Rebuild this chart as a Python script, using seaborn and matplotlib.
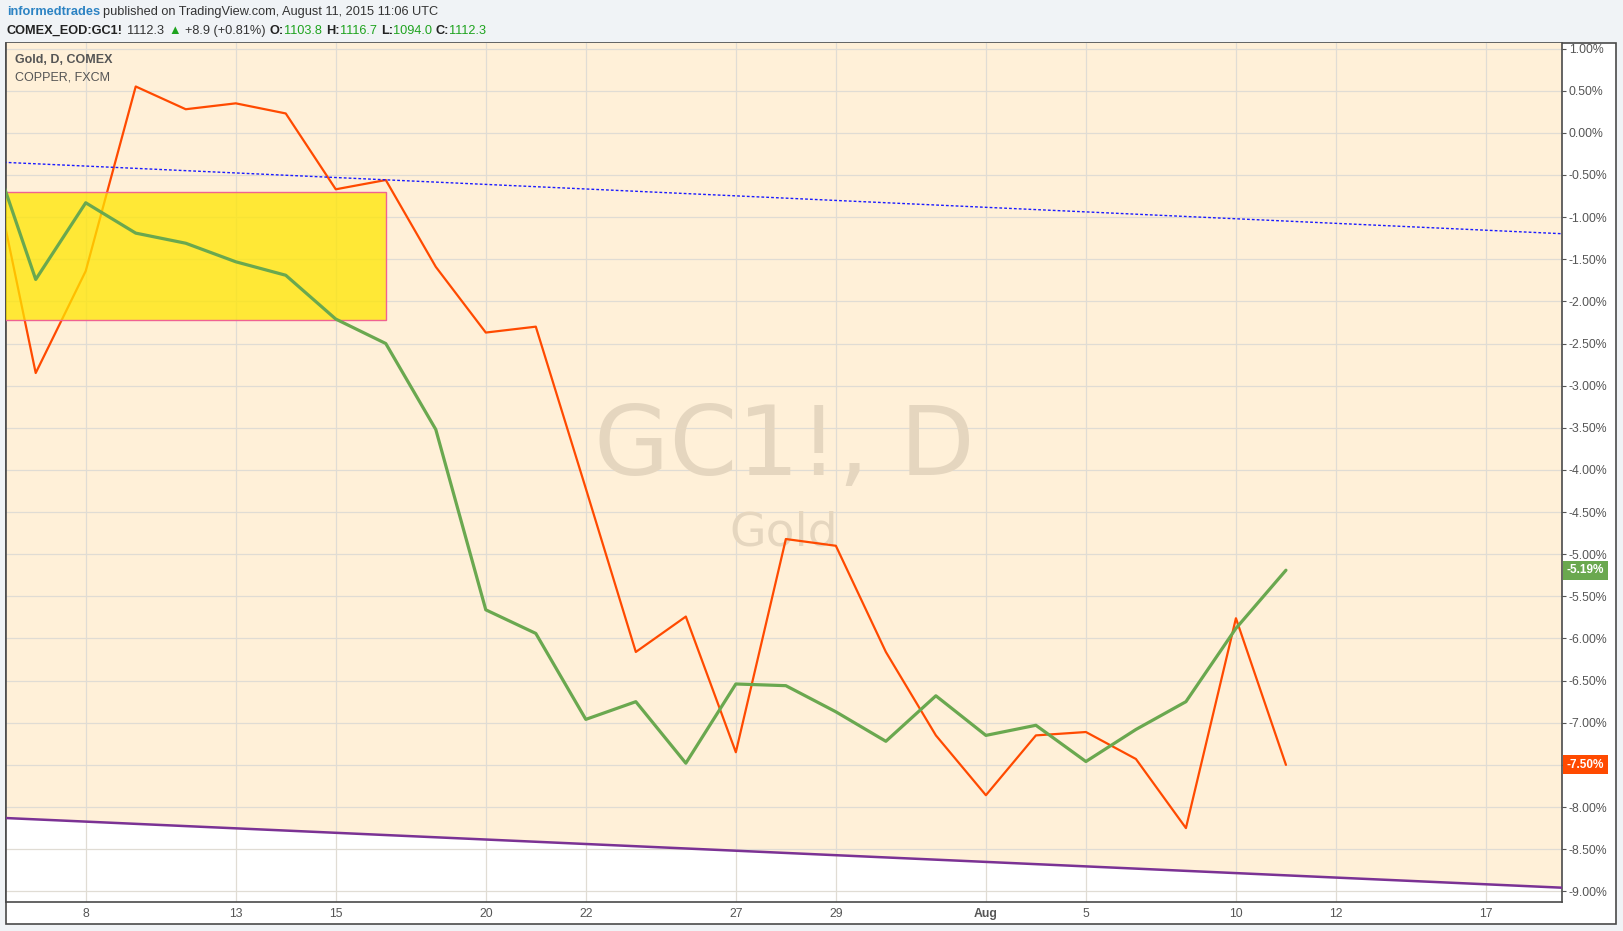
import numpy as np
import pandas as pd
import seaborn as sns
import matplotlib

matplotlib.use("Agg")
import matplotlib.pyplot as plt
import matplotlib.transforms as mtransforms
from matplotlib.patches import Rectangle
from matplotlib.offsetbox import TextArea, HPacker, VPacker, AnchoredOffsetbox

# trading days (Jul 6 .. Aug 17, 2015), x = index of the trading day
days = ["Jul 6", "Jul 7", "Jul 8", "Jul 9", "Jul 10", "Jul 13", "Jul 14", "Jul 15",
        "Jul 16", "Jul 17", "Jul 20", "Jul 21", "Jul 22", "Jul 23", "Jul 24",
        "Jul 27", "Jul 28", "Jul 29", "Jul 30", "Jul 31", "Aug 3", "Aug 4",
        "Aug 5", "Aug 6", "Aug 7", "Aug 10", "Aug 11"]

# percent change vs Jul 6 close
gold = [0.0, -1.74, -0.83, -1.19, -1.31, -1.53, -1.69, -2.21, -2.50, -3.52,
        -5.66, -5.94, -6.96, -6.75, -7.48, -6.54, -6.56, -6.87, -7.22, -6.68,
        -7.15, -7.03, -7.46, -7.08, -6.75, -5.88, -5.19]
copper = [0.0, -2.85, -1.64, 0.55, 0.28, 0.35, 0.23, -0.67, -0.56, -1.59,
          -2.37, -2.30, -4.22, -6.16, -5.74, -7.35, -4.82, -4.90, -6.16, -7.15,
          -7.86, -7.15, -7.11, -7.43, -8.25, -5.76, -7.50]

# drawn trend lines (x in trading-day index)
trend_x = [0, 32]
trend_upper = [-0.34, -1.21]
trend_lower = [-8.12, -8.97]

# highlighted box (x from, x to, y top, y bottom)
box_x = [0, 8]
box_y = [-0.70, -2.22]

tick_pos = [2, 5, 7, 10, 12, 15, 17, 20, 22, 25, 27, 30]
tick_labels = ["8", "13", "15", "20", "22", "27", "29", "Aug", "5", "10", "12", "17"]
y_ticks = np.arange(-9.0, 1.01, 0.5)

GREEN = "#6aa84f"
RED = "#ff4a00"
PEACH = "#ffebcc"
GRID = "#e0dcd4"
TXT = "#555555"

sns.set_style("white")
plt.rcParams["font.family"] = ["Liberation Sans", "DejaVu Sans"]

W, H = 1623, 931
fig = plt.figure(figsize=(W / 100, H / 100), dpi=100, facecolor="#f0f3f6")

# white chart panel with border
panel = Rectangle((6 / W, 1 - 924 / H), (1616 - 6) / W, (924 - 43) / H,
                  transform=fig.transFigure, facecolor="white",
                  edgecolor="#4a4a4a", linewidth=1.2, zorder=0)
fig.add_artist(panel)

ax = fig.add_axes([6 / W, 1 - 902 / H, (1562 - 6) / W, (902 - 43) / H])
ax.set_facecolor("white")

df = pd.DataFrame({"x": np.arange(len(days)), "gold": gold, "copper": copper})

# background fill above the lower trend line
ax.fill_between(trend_x, trend_lower, 5, color=PEACH, alpha=0.75, linewidth=0, zorder=0.5)

sns.lineplot(data=df, x="x", y="copper", color=RED, linewidth=1.6, ax=ax, zorder=2)
ax.add_patch(Rectangle((box_x[0] - 1, box_y[1]), box_x[1] - box_x[0] + 1,
                       box_y[0] - box_y[1], facecolor="#ffe600", alpha=0.75,
                       edgecolor="none", zorder=3))
ax.add_patch(Rectangle((box_x[0] - 1, box_y[1]), box_x[1] - box_x[0] + 1,
                       box_y[0] - box_y[1], facecolor="none",
                       edgecolor="#f06292", linewidth=1.0, zorder=3.1))
sns.lineplot(data=df, x="x", y="gold", color=GREEN, linewidth=2.3, ax=ax, zorder=4)

ax.plot(trend_x, trend_upper, color="#1a1aff", linewidth=1.0, dashes=(2, 1.5), zorder=5)
ax.plot(trend_x, trend_lower, color="#7b3294", linewidth=1.8, zorder=5)

ax.set_xlim(0.406, 31.52)
ax.set_ylim(-9.127, 1.066)

ax.set_xticks(tick_pos)
ax.set_xticklabels(tick_labels)
for lab in ax.get_xticklabels():
    if lab.get_text() == "Aug":
        lab.set_fontweight("bold")

# the last-value boxes sit on top of the scale; a tick label hidden under one stays blank
last_vals = [gold[-1], copper[-1]]
ylabels = []
for v in y_ticks:
    hidden = any(abs(v - lv) < 0.1 for lv in last_vals)
    ylabels.append("" if hidden else f"{v:.2f}%")
ax.set_yticks(y_ticks)
ax.set_yticklabels(ylabels)
ax.yaxis.tick_right()
ax.tick_params(axis="both", direction="out", length=3, width=0.8, colors=TXT,
               labelsize=8.8, labelcolor=TXT)
ax.tick_params(axis="x", pad=1)
ax.tick_params(axis="y", pad=2)
ax.set_xlabel("")
ax.set_ylabel("")
ax.grid(True, color=GRID, linewidth=0.9, zorder=0)
ax.set_axisbelow(True)
for s in ax.spines.values():
    s.set_color("#4a4a4a")
    s.set_linewidth(1.2)
ax.spines["top"].set_visible(False)

# watermark
ax.text(0.5, 0.528, "GC1!, D", transform=ax.transAxes, ha="center", va="center",
        fontsize=70, color="#e5d6bf", family="DejaVu Sans", zorder=1)
ax.text(0.5, 0.430, "Gold", transform=ax.transAxes, ha="center", va="center",
        fontsize=34, color="#e5d6bf", family="DejaVu Sans", zorder=1)

# series legend in the top-left corner
ax.text(9 / (1562 - 6), 1 - 17 / (902 - 43), "Gold, D, COMEX", transform=ax.transAxes,
        ha="left", va="center", fontsize=9, fontweight="bold", color=TXT)
ax.text(9 / (1562 - 6), 1 - 34 / (902 - 43), "COPPER, FXCM", transform=ax.transAxes,
        ha="left", va="center", fontsize=9, color=TXT)

# last-value labels on the price scale
trans = mtransforms.blended_transform_factory(ax.transAxes, ax.transData)
for val, col in [(gold[-1], GREEN), (copper[-1], RED)]:
    ax.annotate(f"{val:.2f}%", xy=(1.0, val), xycoords=trans, xytext=(3.5, 0),
                textcoords="offset points", ha="left", va="center", fontsize=8.5,
                fontweight="bold", color="white", annotation_clip=False,
                bbox=dict(boxstyle="square,pad=0.3", fc=col, ec="none"))


# header lines
def ta(s, color="#333333", weight="normal"):
    return TextArea(s, textprops=dict(color=color, fontweight=weight, fontsize=9.2))


def pair(label, value, color):
    return HPacker(children=[ta(label, "#222222", "bold"), ta(value, color)],
                   sep=0, pad=0, align="baseline")


G = "#1ea31e"
line1 = HPacker(children=[ta("informedtrades", "#2c83c3", "bold"),
                          ta("published on TradingView.com, August 11, 2015 11:06 UTC")],
                sep=2, pad=0, align="baseline")
line2 = HPacker(children=[ta("COMEX_EOD:GC1!", "#222222", "bold"), ta("1112.3"),
                          ta("\u25b2", G), ta("+8.9 (+0.81%)"),
                          pair("O:", "1103.8", G), pair("H:", "1116.7", G),
                          pair("L:", "1094.0", G), pair("C:", "1112.3", G)],
                sep=3, pad=0, align="baseline")
header = VPacker(children=[line1, line2], sep=5, pad=0, align="left")
box = AnchoredOffsetbox(loc="upper left", child=header, pad=0, borderpad=0,
                        frameon=False, bbox_to_anchor=(7 / W, 1 - 6 / H),
                        bbox_transform=fig.transFigure)
fig.add_artist(box)

fig.savefig("out.png", dpi=100, facecolor=fig.get_facecolor())
